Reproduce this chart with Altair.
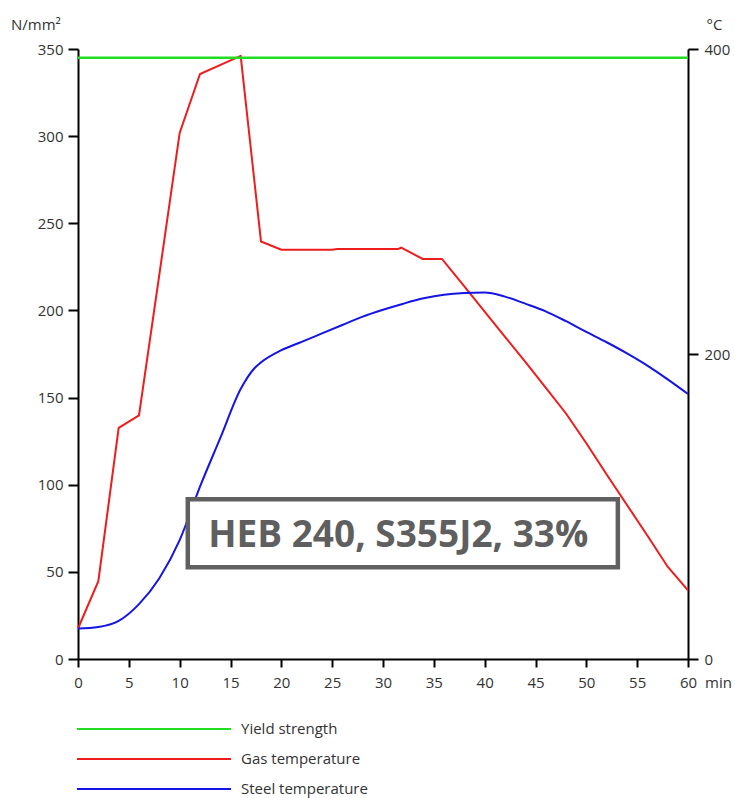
import altair as alt
import pandas as pd

# ---------------- data ----------------
series_names = ["Yield strength", "Gas temperature", "Steel temperature"]
series_colors = ["#22dd22", "#ee1c1c", "#1414e6"]

yield_time = [0, 60]
yield_strength = [345, 345]  # N/mm²

gas_time = [0, 2, 4, 6, 8, 10, 12, 16, 18, 20, 25, 25.5, 31.5, 31.8, 33.9, 35.8,
            38, 40, 42, 44, 46, 48, 50, 52, 54, 56, 58, 60]
gas_temp = [20, 51, 151.5, 159.7, 252, 345, 383.6, 395.5, 273.8, 268.4, 268.4, 268.9, 268.9, 269.8, 262.3, 262.3,
            244.3, 227.8, 211.3, 194.8, 178, 161, 141.5, 121, 101, 81, 60.5, 45]

steel_time = [0, 2, 4, 6, 8, 10, 12, 14, 16, 17.4, 18, 20, 22, 24, 26, 28, 30, 32, 34, 36,
              38, 40, 42, 44, 46, 48, 50, 52, 54, 56, 58, 60]
steel_temp = [20, 21, 25, 36, 53, 78, 113, 145, 177, 191, 194.5, 202.5, 208, 213.5, 219, 224.5, 229, 233, 236.5, 238.9,
              240.0, 240.3, 237.6, 233, 228, 221.5, 214.5, 207.7, 200.4, 192.4, 183.4, 173.8]

x_ticks = list(range(0, 61, 5))
left_ticks = list(range(0, 351, 50))
right_ticks = [0, 200, 400]

annotation_text = ["HEB 240, S355J2, 33%"]
annotation_box_time = [10.8, 53.1]      # min
annotation_box_stress = [52.6, 91.6]    # N/mm²
annotation_anchor = [31.5, 64.4]        # (min, N/mm²)

# ---------------- layout / style ----------------
W, H = 610, 610
FONT = "Open Sans"
TXT = "#333333"

yield_df = pd.DataFrame({"time": yield_time, "value": yield_strength, "series": series_names[0]})
gas_df = pd.DataFrame({"time": gas_time, "value": gas_temp, "series": series_names[1]})
steel_df = pd.DataFrame({"time": steel_time, "value": steel_temp, "series": series_names[2]})
box_df = pd.DataFrame({"x1": [annotation_box_time[0]], "x2": [annotation_box_time[1]],
                       "y1": [annotation_box_stress[0]], "y2": [annotation_box_stress[1]]})
text_df = pd.DataFrame({"tx": [annotation_anchor[0]], "ty": [annotation_anchor[1]], "label": annotation_text})

common_axis = dict(labelFont=FONT, labelFontSize=15, labelColor=TXT, tickColor="black", tickWidth=2,
                   domainColor="black", domainWidth=2, grid=False, titleFont=FONT, titleFontSize=15,
                   titleFontWeight="normal", titleColor=TXT, titleAngle=0)

x_axis = alt.Axis(values=x_ticks, title="min", tickSize=8, labelPadding=8, titleX=626.5, titleY=16,
                  titleAlign="left", titleBaseline="top", labelFlush=False, **common_axis)
left_axis = alt.Axis(values=left_ticks, orient="left", title="N/mm²", tickSize=10, labelPadding=5,
                     titleX=-67.5, titleY=-25, titleAlign="left", titleBaseline="middle", **common_axis)
right_axis = alt.Axis(values=right_ticks, orient="right", title="°C", tickSize=10, labelPadding=6,
                      titleX=18, titleY=-25, titleAlign="left", titleBaseline="middle", **common_axis)

x_scale = alt.Scale(domain=[0, 60], nice=False)
left_scale = alt.Scale(domain=[0, 350], nice=False)
right_scale = alt.Scale(domain=[0, 400], nice=False)

color = alt.Color(
    "series:N",
    scale=alt.Scale(domain=series_names, range=series_colors),
    legend=alt.Legend(title=None, orient="none", legendX=-2, legendY=665, direction="vertical",
                      symbolType="stroke", symbolSize=23716, symbolStrokeWidth=2, clipHeight=30,
                      rowPadding=0, labelOffset=9, labelFont=FONT, labelFontSize=15,
                      labelColor=TXT, labelLimit=400),
)

gas_line = alt.Chart(gas_df).mark_line(strokeWidth=2).encode(
    x=alt.X("time:Q", scale=x_scale, axis=x_axis),
    y=alt.Y("value:Q", scale=right_scale, axis=right_axis),
    color=color,
)
steel_line = alt.Chart(steel_df).mark_line(strokeWidth=2, interpolate="monotone").encode(
    x=alt.X("time:Q", scale=x_scale, axis=x_axis),
    y=alt.Y("value:Q", scale=right_scale, axis=right_axis),
    color=color,
)
right_layer = alt.layer(gas_line, steel_line)

yield_line = alt.Chart(yield_df).mark_line(strokeWidth=2.5).encode(
    x=alt.X("time:Q", scale=x_scale, axis=x_axis),
    y=alt.Y("value:Q", scale=left_scale, axis=left_axis),
    color=color,
)
box = alt.Chart(box_df).mark_rect(fill="white", stroke="#606060", strokeWidth=4.5).encode(
    x=alt.X("x1:Q", scale=x_scale, axis=x_axis), x2="x2",
    y=alt.Y("y1:Q", scale=left_scale, axis=left_axis), y2="y2",
)
label = alt.Chart(text_df).mark_text(font=FONT, fontSize=37, fontWeight="bold", color="#5f5f5f",
                                     align="center", baseline="alphabetic").encode(
    x=alt.X("tx:Q", scale=x_scale, axis=x_axis),
    y=alt.Y("ty:Q", scale=left_scale, axis=left_axis),
    text="label:N",
)
left_layer = alt.layer(yield_line, box, label)

chart = (
    alt.layer(right_layer, left_layer)
    .resolve_scale(y="independent")
    .properties(width=W, height=H, background="white",
                padding={"left": 78, "top": 49, "right": 47, "bottom": 139},
                autosize=alt.AutoSizeParams(type="none"),
                view=alt.ViewBackground(stroke="transparent", strokeWidth=0))
    .configure_view(stroke="transparent", strokeWidth=0, strokeOpacity=0)
    .configure_axis(grid=False, gridOpacity=0)
    .configure(font=FONT, style={"cell": {"stroke": "transparent", "strokeWidth": 0}})
)

chart.save("out.html", embed_options={"renderer": "svg", "actions": False})
